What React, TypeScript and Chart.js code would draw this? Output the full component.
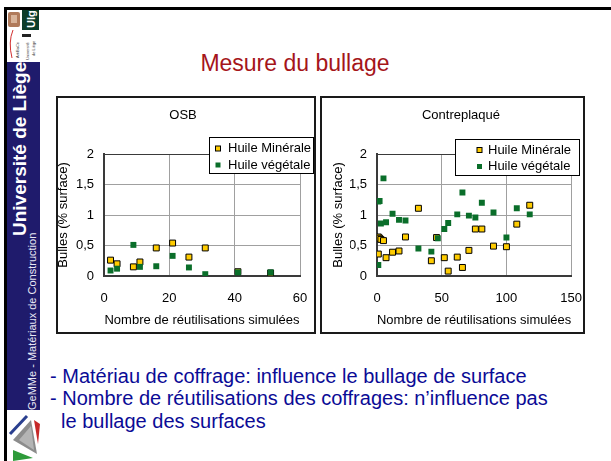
import React, { useEffect, useRef } from 'react';
import { Chart, registerables } from 'chart.js';

Chart.register(...registerables);

// ---- Data ----
const osbMineraleX = [2, 4, 9, 11, 16, 21, 26, 31, 41, 51];
const osbMineraleY = [0.26, 0.2, 0.15, 0.23, 0.46, 0.54, 0.31, 0.46, 0.07, 0.05];
const osbVegetaleX = [2, 4, 9, 11, 16, 21, 26, 31, 41, 51];
const osbVegetaleY = [0.09, 0.12, 0.51, 0.15, 0.16, 0.33, 0.14, 0.03, 0.06, 0.06];

const cpMineraleX = [1, 2, 3, 5, 1, 7, 12, 17, 22, 32, 42, 46, 52, 55, 62, 66, 71, 76, 81, 90, 100, 108, 118];
const cpMineraleY = [0.64, 0.62, 0.6, 0.58, 0.36, 0.3, 0.39, 0.41, 0.64, 1.11, 0.25, 0.63, 0.3, 0.08, 0.31, 0.14, 0.42, 0.77, 0.77, 0.49, 0.48, 0.85, 1.16];
const cpVegetaleX = [1, 1, 2, 5, 3, 7, 12, 17, 22, 32, 42, 47, 52, 55, 62, 66, 71, 76, 81, 90, 100, 108, 118];
const cpVegetaleY = [0.18, 1.22, 1.23, 1.6, 0.86, 0.88, 1.02, 0.92, 0.91, 0.45, 0.4, 0.62, 0.77, 0.87, 1.01, 1.37, 0.99, 0.96, 1.2, 1.04, 0.63, 1.11, 1.01];

const seriesLabels = ['Huile Minérale', 'Huile végétale'];
const yTicks = [0, 0.5, 1, 1.5, 2];
const osbXTicks = [0, 20, 40, 60];
const cpXTicks = [0, 50, 100, 150];

const FONT = '"Liberation Sans", Arial, Helvetica, sans-serif';
const GOLD = '#FFCC00';
const GREEN = '#0a6e2a';

const zip = (xs: number[], ys: number[]) => xs.map((x, i) => ({ x, y: ys[i] }));

type LegendBox = { x: number; y: number; w: number; h: number; markerX: number; textX: number; rowY: number[] };

function makeLegendPlugin(box: LegendBox) {
  return {
    id: 'boxLegend',
    afterDraw(chart: any) {
      const ctx = chart.ctx;
      ctx.save();
      ctx.fillStyle = '#ffffff';
      ctx.fillRect(box.x, box.y, box.w, box.h);
      ctx.strokeStyle = '#000000';
      ctx.lineWidth = 1;
      ctx.strokeRect(box.x + 0.5, box.y + 0.5, box.w - 1, box.h - 1);
      ctx.font = '13px ' + FONT;
      ctx.textBaseline = 'middle';
      ctx.textAlign = 'left';
      chart.data.datasets.forEach((ds: any, i: number) => {
        const y = box.rowY[i];
        const s = 5;
        ctx.fillStyle = ds.backgroundColor;
        ctx.fillRect(box.markerX - s / 2, y - s / 2, s, s);
        if (ds.borderWidth > 0) {
          ctx.strokeStyle = ds.borderColor;
          ctx.lineWidth = 1;
          ctx.strokeRect(box.markerX - s / 2, y - s / 2, s, s);
        }
        ctx.fillStyle = '#000000';
        ctx.fillText(ds.label, box.textX, y);
      });
      ctx.restore();
    },
  };
}

type PanelProps = {
  left: number;
  width: number;
  padL: number;
  padR: number;
  yWidth: number;
  yTitlePad: number;
  title: string;
  mineraleX: number[];
  mineraleY: number[];
  vegetaleX: number[];
  vegetaleY: number[];
  xTicks: number[];
  legend: LegendBox;
};

const PANEL_H = 238;

function ScatterPanel(p: PanelProps) {
  const ref = useRef<HTMLCanvasElement | null>(null);
  useEffect(() => {
    if (!ref.current) return;
    const tickFont = { family: FONT, size: 13 };
    const fmt = (v: any) => String(v).replace('.', ',');
    const xMax = p.xTicks[p.xTicks.length - 1];
    const xStep = p.xTicks[1] - p.xTicks[0];
    const chart = new Chart(ref.current, {
      type: 'scatter',
      data: {
        datasets: [
          {
            label: seriesLabels[0],
            data: zip(p.mineraleX, p.mineraleY),
            backgroundColor: GOLD,
            borderColor: '#000000',
            borderWidth: 1,
            pointStyle: 'rect',
            pointRadius: 4.2,
            order: 1,
          },
          {
            label: seriesLabels[1],
            data: zip(p.vegetaleX, p.vegetaleY),
            backgroundColor: GREEN,
            borderColor: GREEN,
            borderWidth: 0,
            pointStyle: 'rect',
            pointRadius: 4.2,
            order: 0,
          },
        ] as any,
      },
      options: {
        animation: false,
        responsive: false,
        devicePixelRatio: 1,
        layout: { padding: { left: p.padL, right: p.padR, top: 0, bottom: 0 } },
        plugins: {
          legend: { display: false },
          tooltip: { enabled: false },
          title: {
            display: true,
            text: p.title,
            color: '#000000',
            font: { family: FONT, size: 13, weight: 'normal', lineHeight: 1.2 },
            padding: { top: 12, bottom: 30.4 },
          },
        },
        scales: {
          x: {
            type: 'linear',
            min: 0,
            max: xMax,
            afterBuildTicks: (s: any) => { s.ticks = p.xTicks.map((v) => ({ value: v })); },
            ticks: { stepSize: xStep, padding: 3, color: '#000000', font: tickFont, maxRotation: 0 },
            grid: { color: '#a0a0a0', drawTicks: true, tickLength: 12, tickColor: 'rgba(0,0,0,0)', lineWidth: 1 },
            border: { display: true, color: '#3a3a3a', width: 2 },
            title: {
              display: true,
              text: 'Nombre de réutilisations simulées',
              color: '#000000',
              font: { family: FONT, size: 13, lineHeight: 1.2 },
              padding: { top: 0, bottom: 6 },
            },
            afterFit: (s: any) => { s.height = 58; },
          },
          y: {
            type: 'linear',
            min: 0,
            max: 2,
            afterBuildTicks: (s: any) => { s.ticks = yTicks.map((v) => ({ value: v })); },
            ticks: { stepSize: 0.5, padding: 3, color: '#000000', font: tickFont, callback: fmt },
            grid: {
              color: (c: any) => (c.tick && c.tick.value === 2 ? '#3a3a3a' : '#a0a0a0'),
              drawTicks: true,
              tickLength: 7,
              tickColor: 'rgba(0,0,0,0)',
              lineWidth: 1,
            },
            border: { display: true, color: '#3a3a3a', width: 2 },
            title: {
              display: true,
              text: 'Bulles (% surface)',
              color: '#000000',
              font: { family: FONT, size: 13, lineHeight: 1.2 },
              padding: { top: p.yTitlePad, bottom: 0 },
            },
            afterFit: (s: any) => { s.width = p.yWidth; },
          },
        },
      } as any,
      plugins: [makeLegendPlugin(p.legend)],
    });
    return () => chart.destroy();
  }, []);

  return (
    <div style={{ position: 'absolute', left: p.left, top: 96, width: p.width, height: PANEL_H }}>
      <div style={{ position: 'absolute', inset: 0, border: '2px solid #1a1a1a', boxSizing: 'border-box' }} />
      <canvas ref={ref} width={p.width} height={PANEL_H} style={{ position: 'absolute', left: 0, top: 0, width: p.width, height: PANEL_H }} />
    </div>
  );
}

const rotated = (left: number, top: number, extra: React.CSSProperties): React.CSSProperties => ({
  position: 'absolute',
  left,
  top,
  transform: 'rotate(-90deg)',
  transformOrigin: '0 0',
  whiteSpace: 'nowrap',
  lineHeight: 1,
  ...extra,
});

export default function App() {
  return (
    <div style={{ position: 'fixed', left: 0, top: 0, width: 611, height: 461, background: '#ffffff', overflow: 'hidden', fontFamily: FONT }}>
      {/* slide frame */}
      <div style={{ position: 'absolute', left: 4, top: 7, width: 607, height: 3, background: '#000' }} />
      <div style={{ position: 'absolute', left: 4, top: 7, width: 3, height: 454, background: '#000' }} />
      {/* top logo */}
      <svg style={{ position: 'absolute', left: 7, top: 10 }} width={33} height={52}>
        <rect x={1} y={2} width={12} height={15} rx={2} fill="#b07a5a" />
        <rect x={4} y={5} width={6} height={8} fill="#d8b49a" />
        <rect x={15} y={0} width={17} height={20} fill="#0b3d2a" />
        <text x={0} y={0} transform="translate(28,18) rotate(-90)" fill="#fff" fontSize={11} fontWeight="bold" fontFamily={FONT}>Ulg</text>
        <path d="M6 20 Q1 32 5 48" stroke="#d23030" strokeWidth={1} fill="none" />
        <rect x={15} y={24} width={9} height={3} fill="#222" />
        <text x={0} y={0} transform="translate(12,48) rotate(-90)" fill="#333" fontSize={4} fontFamily={FONT}>ArtiBaCe</text>
        <text x={0} y={0} transform="translate(22,50) rotate(-90)" fill="#333" fontSize={4} fontFamily={FONT}>Université</text>
        <text x={0} y={0} transform="translate(28,46) rotate(-90)" fill="#333" fontSize={4} fontFamily={FONT}>de Liège</text>
      </svg>
      {/* blue band */}
      <div style={{ position: 'absolute', left: 7, top: 62, width: 33, height: 348, background: '#1f1b6c' }} />
      <div style={rotated(10, 236, { color: '#ffffff', fontSize: 19, fontWeight: 'bold' })}>Université de Liège</div>
      <div style={rotated(27, 410, { color: '#e8e8f4', fontSize: 11 })}>GeMMe - Matériaux de Construction</div>
      {/* bottom logo */}
      <svg style={{ position: 'absolute', left: 7, top: 410 }} width={33} height={51}>
        <polygon points="6,30 24,10 30,44" fill="#8c8c8c" />
        <polygon points="12,30 24,16 27,40" fill="#b4b4b4" />
        <line x1={3} y1={24} x2={20} y2={6} stroke="#2a3f8f" strokeWidth={3} />
        <polygon points="27,10 33,14 31,34" fill="#c62828" />
        <polygon points="6,40 26,48 6,51" fill="#2e9b3a" />
      </svg>
      {/* title */}
      <div style={{ position: 'absolute', left: 95, width: 400, top: 48, textAlign: 'center', fontSize: 23, color: '#a5151a', lineHeight: '30px' }}>
        Mesure du bullage
      </div>
      <ScatterPanel
        left={56}
        width={260}
        padL={10}
        padR={16}
        yWidth={38}
        yTitlePad={-10.8}
        title="OSB"
        mineraleX={osbMineraleX}
        mineraleY={osbMineraleY}
        vegetaleX={osbVegetaleX}
        vegetaleY={osbVegetaleY}
        xTicks={osbXTicks}
        legend={{ x: 153, y: 41, w: 105, h: 37, markerX: 162, textX: 172, rowY: [52.5, 69] }}
      />
      <ScatterPanel
        left={320}
        width={265}
        padL={30}
        padR={13}
        yWidth={27}
        yTitlePad={-19.8}
        title="Contreplaqué"
        mineraleX={cpMineraleX}
        mineraleY={cpMineraleY}
        vegetaleX={cpVegetaleX}
        vegetaleY={cpVegetaleY}
        xTicks={cpXTicks}
        legend={{ x: 135, y: 43, w: 125, h: 37, markerX: 159.5, textX: 168, rowY: [54, 70.5] }}
      />
      {/* bullets */}
      <div style={{ position: 'absolute', left: 50, top: 364.75, fontSize: 20, lineHeight: '22.5px', color: '#0b0b96', whiteSpace: 'pre' }}>
        {'- Matériau de coffrage: influence le bullage de surface\n- Nombre de réutilisations des coffrages: n’influence pas\n  le bullage des surfaces'}
      </div>
    </div>
  );
}
